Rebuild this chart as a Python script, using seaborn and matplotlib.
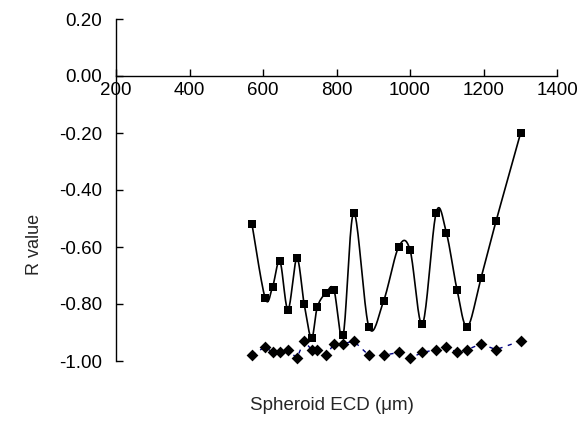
import numpy as np
import pandas as pd
import matplotlib
matplotlib.use("Agg")
import matplotlib.pyplot as plt
import seaborn as sns

# Spheroid equivalent circular diameter (um) and R values of the two series
ecd = [570, 606, 626, 646, 668, 692, 712, 732, 748, 772, 793, 818, 847,
       888, 928, 969, 1000, 1034, 1071, 1099, 1128, 1156, 1193, 1234, 1301]
r_squares = [-0.52, -0.78, -0.74, -0.65, -0.82, -0.64, -0.80, -0.92, -0.81,
             -0.76, -0.75, -0.91, -0.48, -0.88, -0.79, -0.60, -0.61, -0.87,
             -0.48, -0.55, -0.75, -0.88, -0.71, -0.51, -0.20]
r_diamonds = [-0.98, -0.95, -0.97, -0.97, -0.96, -0.99, -0.93, -0.96, -0.96,
              -0.98, -0.94, -0.94, -0.93, -0.98, -0.98, -0.97, -0.99, -0.97,
              -0.96, -0.95, -0.97, -0.96, -0.94, -0.96, -0.93]
x_ticks = [200, 400, 600, 800, 1000, 1200, 1400]
y_ticks = [0.20, 0.00, -0.20, -0.40, -0.60, -0.80, -1.00]


def catmull_rom(xs, ys, n=20):
    """Smoothed curve through the points (uniform Catmull-Rom)."""
    p = np.column_stack([xs, ys]).astype(float)
    p = np.vstack([p[0], p, p[-1]])
    out = []
    for i in range(1, len(p) - 2):
        p0, p1, p2, p3 = p[i - 1], p[i], p[i + 1], p[i + 2]
        t = np.linspace(0, 1, n, endpoint=False)[:, None]
        seg = 0.5 * ((2 * p1) + (-p0 + p2) * t
                     + (2 * p0 - 5 * p1 + 4 * p2 - p3) * t ** 2
                     + (-p0 + 3 * p1 - 3 * p2 + p3) * t ** 3)
        out.append(seg)
    out.append(p[-2][None, :])
    c = np.vstack(out)
    return c[:, 0], c[:, 1]


sns.set_style("white")
plt.rcParams["font.family"] = ["Liberation Sans", "DejaVu Sans"]

fig = plt.figure(figsize=(5.85, 4.29), dpi=100)
ax = fig.add_axes([116 / 585, 1 - 361 / 429, 441 / 585, 342 / 429])

df = pd.DataFrame({"ecd": ecd, "sq": r_squares, "dm": r_diamonds})

# smoothed solid line with square markers
sx, sy = catmull_rom(df["ecd"], df["sq"])
smooth = pd.DataFrame({"ecd": sx, "r": sy})
sns.lineplot(data=smooth, x="ecd", y="r", sort=False, ax=ax,
             color="black", linewidth=1.2, estimator=None)
sns.scatterplot(data=df, x="ecd", y="sq", marker="s", s=30, color="black",
                edgecolor="black", linewidth=0, ax=ax, zorder=3)

# dashed navy line with diamond markers
sns.lineplot(data=df, x="ecd", y="dm", sort=False, ax=ax, color="#000080",
             linewidth=1.0, linestyle=(0, (3, 4)), estimator=None)
sns.scatterplot(data=df, x="ecd", y="dm", marker="D", s=36, color="black",
                edgecolor="black", linewidth=0, ax=ax, zorder=3, clip_on=False)

ax.set_xlim(200, 1400)
ax.set_ylim(-1.0, 0.2)
ax.set_xticks(x_ticks)
ax.set_xticklabels([str(v) for v in x_ticks])
ax.set_yticks(y_ticks)
ax.set_yticklabels([f"{v:.2f}" for v in y_ticks])

for s in ("top", "right"):
    ax.spines[s].set_visible(False)
ax.spines["bottom"].set_position(("data", 0.0))
for s in ("left", "bottom"):
    ax.spines[s].set_color("black")
    ax.spines[s].set_linewidth(1.0)

ax.tick_params(axis="both", direction="in", length=5, width=1.0,
               colors="black", labelsize=13.5, bottom=True, left=True)
ax.tick_params(axis="x", pad=4)
ax.tick_params(axis="y", pad=10)

ax.set_xlabel("Spheroid ECD (\u03bcm)", fontsize=13.5)
ax.set_ylabel("R value", fontsize=13)
ax.xaxis.set_label_coords(0.489, -0.13)
ax.yaxis.set_label_coords(-0.184, 0.34)
ax.xaxis.label.set_va("center")
ax.yaxis.label.set_va("center")

fig.savefig("out.png", dpi=100)
